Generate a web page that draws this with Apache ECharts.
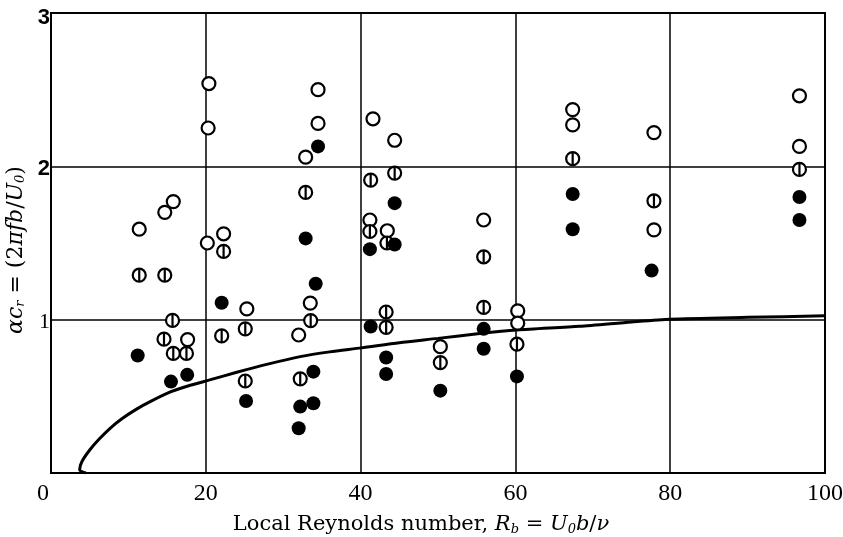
<!DOCTYPE html>
<html>
<head>
<meta charset="utf-8">
<script src="https://cdn.jsdelivr.net/npm/echarts@6/dist/echarts.min.js"></script>
<style>
html,body{margin:0;padding:0;background:#fff;}
#c{width:843px;height:537px;}
</style>
</head>
<body>
<div id="c"></div>
<script>
// Tick labels
const xTicks = [0, 20, 40, 60, 80, 100];
const yTicks = [1, 2, 3];

// Open circles [Rb, alpha*cr]
const openPts = [
  [20.4,2.54],[20.3,2.25],[15.8,1.77],[14.7,1.70],[11.4,1.59],[20.2,1.50],[22.3,1.56],[17.65,0.87],[25.3,1.07],
  [34.5,2.50],[34.5,2.28],[32.9,2.06],[41.6,2.31],[44.4,2.17],[41.2,1.65],[43.45,1.58],[55.9,1.65],
  [67.4,2.37],[67.4,2.27],[77.9,2.22],[77.9,1.586],[96.7,2.46],[96.7,2.13],[33.5,1.108],[32.0,0.90],
  [50.3,0.824],[60.3,1.057],[60.3,0.977]
];
// Barred circles
const barredPts = [
  [11.4,1.29],[14.7,1.29],[22.3,1.445],[15.7,0.995],[14.6,0.873],[15.8,0.78],[17.5,0.78],[25.1,0.94],[22.05,0.894],[25.1,0.60],
  [32.9,1.83],[41.3,1.91],[44.4,1.956],[41.2,1.575],[43.4,1.50],[33.55,0.994],[32.2,0.614],[43.3,1.05],[43.3,0.95],
  [50.3,0.72],[55.9,1.41],[55.9,1.08],[60.2,0.84],[67.4,2.05],[77.9,1.775],[96.7,1.98]
];
// Filled circles
const filledPts = [
  [11.2,0.766],[17.6,0.64],[15.5,0.596],[22.05,1.11],[25.2,0.47],
  [34.5,2.13],[32.9,1.53],[44.4,1.76],[41.2,1.46],[44.4,1.49],[34.2,1.234],[33.9,0.661],[33.9,0.455],
  [32.2,0.433],[32.0,0.292],[41.3,0.955],[43.3,0.753],[43.3,0.646],[50.3,0.537],[55.9,0.94],[55.9,0.81],
  [60.2,0.63],[67.4,1.82],[67.4,1.59],[77.6,1.32],[96.7,1.80],[96.7,1.65]
];
// Neutral stability curve
const curvePts = [
  [4.5,0],[3.7,0.022],[4.0,0.075],[5.0,0.15],[6.2,0.22],[7.6,0.29],[9.2,0.355],[11.0,0.415],
  [13.0,0.47],[15.5,0.53],[18.0,0.572],[20.5,0.607],[24.0,0.657],[28.0,0.71],[32.2,0.759],
  [36.0,0.79],[40.1,0.816],[45.0,0.85],[50.0,0.878],[55.4,0.91],[60.2,0.933],[68.3,0.957],
  [75.0,0.985],[80,1.003],[90,1.015],[100,1.025]
];

const chart = echarts.init(document.getElementById('c'), null, {renderer:'canvas'});
const serif = '"Liberation Serif","DejaVu Serif",serif';
const wserif = '"DejaVu Serif","Liberation Serif",serif';
const sans = '"Liberation Sans",Arial,sans-serif';
const sym = 13;
chart.setOption({
  animation:false,
  backgroundColor:'#fff',
  grid:{left:51,right:18,top:13,bottom:64,containLabel:false,outerBoundsMode:'none',
        show:true,borderColor:'#000',borderWidth:2,backgroundColor:'transparent'},
  xAxis:{
    type:'value',min:0,max:100,interval:20,
    axisLine:{show:true,lineStyle:{color:'#000',width:2}},
    axisTick:{show:false},
    splitLine:{show:true,lineStyle:{color:'#000',width:1.5}},
    axisLabel:{
      margin:9,color:'#000',fontFamily:serif,fontSize:24,
      formatter:function(v){ return xTicks.indexOf(v)>=0 ? (v===0?'{z|0}':String(v)) : ''; },
      rich:{z:{fontFamily:serif,fontSize:24,color:'#000',padding:[0,16,0,0]}}
    },
    name:'{t|Local Reynolds number, }{i|R}{s|b}{t| = }{i|U}{s|0}{i|b}{t|/}{i|ν}',
    nameLocation:'middle',nameGap:41,
    nameTextStyle:{
      padding:[0,34,0,0],
      rich:{
        t:{fontFamily:wserif,fontSize:21,color:'#000'},
        i:{fontFamily:wserif,fontSize:21,fontStyle:'italic',color:'#000'},
        s:{fontFamily:wserif,fontSize:13,fontStyle:'italic',color:'#000',padding:[9,0,0,0]}
      }
    }
  },
  yAxis:{
    type:'value',min:0,max:3,interval:1,
    axisLine:{show:true,lineStyle:{color:'#000',width:2}},
    axisTick:{show:false},
    splitLine:{show:true,lineStyle:{color:'#000',width:1.5}},
    axisLabel:{
      margin:1,color:'#000',
      formatter:function(v){ if(yTicks.indexOf(v)<0) return ''; return v===1?'{s|1}':(v===3?'{c|3}':'{b|'+v+'}'); },
      rich:{
        s:{fontFamily:serif,fontSize:22,color:'#000',padding:[6,0,0,0]},
        b:{fontFamily:sans,fontWeight:'bold',fontSize:22,color:'#000',padding:[6,0,0,0]},
        c:{fontFamily:sans,fontWeight:'bold',fontSize:22,color:'#000',padding:[10,0,0,0]}
      }
    },
    name:'{i|αc}{s|r}{t| = (2}{i|πfb}{t|/}{i|U}{s|0}{t|)}',
    nameLocation:'middle',nameGap:24,nameRotate:90,
    nameTextStyle:{
      padding:[0,14,0,0],
      rich:{
        t:{fontFamily:wserif,fontSize:22,color:'#000'},
        i:{fontFamily:wserif,fontSize:22,fontStyle:'italic',color:'#000'},
        s:{fontFamily:wserif,fontSize:13,fontStyle:'italic',color:'#000',padding:[9,0,0,0]}
      }
    }
  },
  series:[
    {type:'line',data:curvePts,smooth:0.25,showSymbol:false,symbol:'none',z:2,
     lineStyle:{color:'#000',width:3},silent:true},
    {type:'scatter',data:openPts,symbol:'circle',symbolSize:sym,z:3,
     itemStyle:{color:'#fff',borderColor:'#000',borderWidth:2.2,opacity:1}},
    {type:'scatter',data:barredPts,symbol:'circle',symbolSize:sym,z:3,
     itemStyle:{color:'#fff',borderColor:'#000',borderWidth:2.2,opacity:1}},
    {type:'scatter',data:barredPts,symbol:'rect',symbolSize:[2.2,sym-1],z:4,
     itemStyle:{color:'#000',opacity:1}},
    {type:'scatter',data:filledPts,symbol:'circle',symbolSize:sym+1,z:5,
     itemStyle:{color:'#000',opacity:1}}
  ]
});
</script>
</body>
</html>
